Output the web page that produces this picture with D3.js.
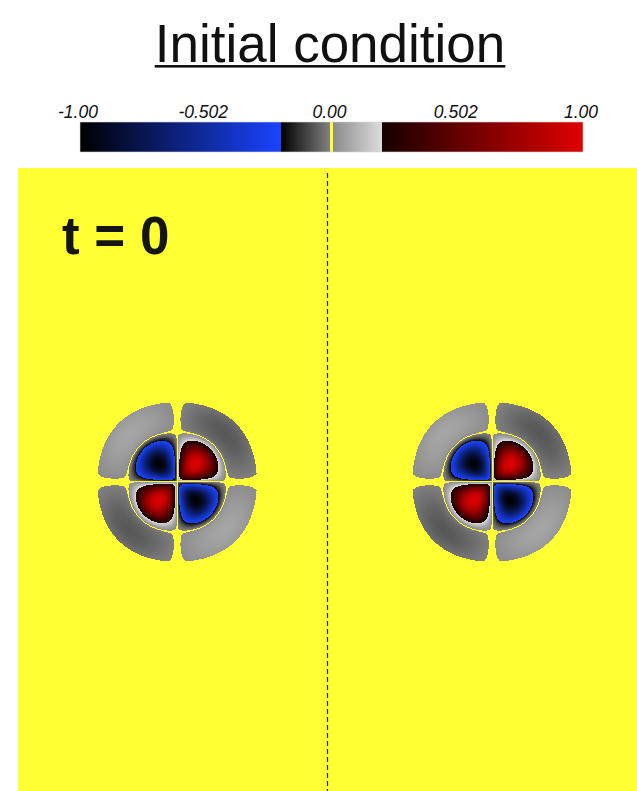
<!DOCTYPE html>
<html>
<head>
<meta charset="utf-8">
<script src="https://cdn.jsdelivr.net/npm/d3@7"></script>
<style>
  html, body { margin: 0; background: #fff; }
  svg { display: block; }
</style>
</head>
<body>
<svg id="chart" width="637" height="791"></svg>
<script>
// ---- data ----
const title = "Initial condition";
const timeLabel = "t = 0";
const colorbarTicks = [-1.0, -0.502, 0.0, 0.502, 1.0];
const colorbarLabels = ["-1.00", "-0.502", "0.00", "0.502", "1.00"];

// two identical vortex patches (domain units, x=0 is the dashed line)
const vortexX = [-4.85, 5.34];
const vortexY = [0, 0];
// radial amplitude of the quadrupole, sampled every 0.16 units out to the patch edge
const profileR = [0, 0.16, 0.32, 0.48, 0.64, 0.80, 0.96, 1.12, 1.28, 1.44, 1.60, 1.76, 1.92, 2.08, 2.24, 2.40, 2.56];
const profileG = [0, 0.22, 0.52, 0.78, 0.95, 1.00, 0.95, 0.80, 0.55, 0.22, -0.025, -0.048, -0.062, -0.068, -0.066, -0.055, -0.036];
const supportRadius = 2.58;
const diagonalStretch = 0.04;   // patches are a touch squarish
const angularMode = 2;

// ---- colour map (blue / grey / red with a yellow band at zero) ----
const cmapDomain = [-1, -0.2, -0.2, -0.007, -0.007, 0.007, 0.007, 0.2, 0.2, 1];
const cmapRange = ["#000000", "#1a44ff", "#000000", "#808080", "#ffff33", "#ffff33", "#8c8c8c", "#dcdcdc", "#170000", "#e00000"];
const zeroColor = "#ffff33";

const svg = d3.select("#chart");
const cmap = d3.scaleLinear().domain(cmapDomain).range(cmapRange).clamp(true);

// title
const titleText = svg.append("text")
  .attr("x", 330).attr("y", 62)
  .attr("text-anchor", "middle")
  .attr("font-family", "Liberation Sans, Arial, sans-serif")
  .attr("font-size", 53)
  .attr("fill", "#111")
  .text(title);
const tb = titleText.node().getBBox();
svg.append("rect")
  .attr("x", tb.x).attr("y", 65)
  .attr("width", tb.width).attr("height", 2.6)
  .attr("fill", "#111");

// colorbar
const cb = { x0: 80, x1: 583, y: 122, h: 30 };
const cbScale = d3.scaleLinear().domain([-1, 1]).range([cb.x0, cb.x1]);

const grad = svg.append("defs").append("linearGradient")
  .attr("id", "cbar").attr("x1", "0%").attr("x2", "100%");
grad.selectAll("stop")
  .data(cmapDomain.map((d, i) => ({ d, c: cmapRange[i] })))
  .enter().append("stop")
  .attr("offset", d => ((d.d + 1) / 2 * 100) + "%")
  .attr("stop-color", d => d.c);

svg.append("rect")
  .attr("x", cb.x0).attr("y", cb.y)
  .attr("width", cb.x1 - cb.x0).attr("height", cb.h)
  .attr("fill", "url(#cbar)")
  .attr("stroke", "#d8d8d8").attr("stroke-width", 0.6);

svg.selectAll(".cblabel")
  .data(colorbarTicks)
  .enter().append("text")
  .attr("class", "cblabel")
  .attr("x", d => cbScale(d) - 2)
  .attr("y", 118)
  .attr("text-anchor", "middle")
  .attr("font-family", "Liberation Sans, Arial, sans-serif")
  .attr("font-style", "italic")
  .attr("font-size", 17.5)
  .attr("fill", "#111")
  .text((d, i) => colorbarLabels[i]);

// field panel
const panel = { x0: 18, y0: 168, x1: 637, y1: 791 };
const x = d3.scaleLinear().domain([-10, 10]).range([18, 636]);
const y = d3.scaleLinear().domain([-10, 10]).range([791, 173]);

const pw = panel.x1 - panel.x0, ph = panel.y1 - panel.y0;
const canvas = document.createElement("canvas");
canvas.width = pw; canvas.height = ph;
const ctx = canvas.getContext("2d");
const img = ctx.createImageData(pw, ph);

const rScale = d3.scaleLinear().domain([profileR[0], profileR[profileR.length - 1]]).range([0, 1]);
const gInterp = d3.interpolateBasis(profileG);

// sample the field on pixel centres
const vals = new Float32Array(pw * ph);
const inside = new Uint8Array(pw * ph);
for (let j = 0; j < ph; j++) {
  const wy = y.invert(panel.y0 + j + 0.5);
  for (let i = 0; i < pw; i++) {
    const wx = x.invert(panel.x0 + i + 0.5);
    for (let k = 0; k < vortexX.length; k++) {
      const dx = wx - vortexX[k], dy = wy - vortexY[k];
      const th = Math.atan2(dy, dx);
      const s = Math.sin(angularMode * th);
      const r = Math.hypot(dx, dy) / (1 + diagonalStretch * s * s);
      if (r < supportRadius) {
        vals[j * pw + i] = gInterp(rScale(r)) * s;
        inside[j * pw + i] = 1;
      }
    }
  }
}

// mark zero crossings so contour lines stay visible
const zero = new Uint8Array(pw * ph);
for (let j = 0; j < ph; j++) {
  for (let i = 0; i < pw; i++) {
    const a = j * pw + i;
    if (!inside[a]) continue;
    [[i + 1, j], [i, j + 1]].forEach(([ni, nj]) => {
      if (ni >= pw || nj >= ph) return;
      const b = nj * pw + ni;
      if (!inside[b]) return;
      if (vals[a] * vals[b] < 0) {
        zero[Math.abs(vals[a]) <= Math.abs(vals[b]) ? a : b] = 1;
      }
    });
  }
}

const yellow = d3.rgb(zeroColor);
for (let p = 0; p < pw * ph; p++) {
  const c = (!inside[p] || zero[p]) ? yellow : d3.rgb(cmap(vals[p]));
  img.data[p * 4] = c.r;
  img.data[p * 4 + 1] = c.g;
  img.data[p * 4 + 2] = c.b;
  img.data[p * 4 + 3] = 255;
}
ctx.putImageData(img, 0, 0);

svg.append("image")
  .attr("x", panel.x0).attr("y", panel.y0)
  .attr("width", pw).attr("height", ph)
  .attr("href", canvas.toDataURL());

// periodic boundary marker
svg.append("line")
  .attr("x1", x(0) + 0.5).attr("x2", x(0) + 0.5)
  .attr("y1", 173).attr("y2", panel.y1)
  .attr("stroke", "#222")
  .attr("stroke-width", 1.2)
  .attr("stroke-dasharray", "5,3");

svg.append("text")
  .attr("x", 62).attr("y", 254)
  .attr("font-family", "Liberation Sans, Arial, sans-serif")
  .attr("font-weight", "bold")
  .attr("font-size", 53)
  .attr("fill", "#151515")
  .text(timeLabel);
</script>
</body>
</html>
